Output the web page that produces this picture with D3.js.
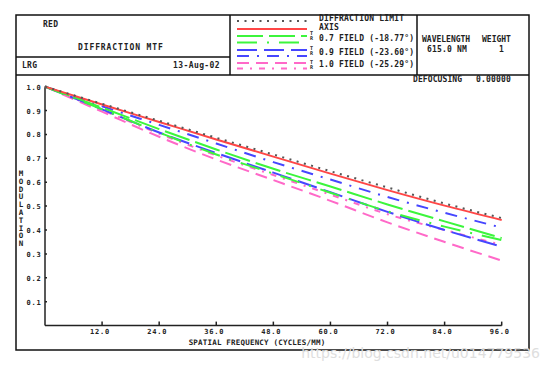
<!DOCTYPE html>
<html>
<head>
<meta charset="utf-8">
<script src="https://cdn.jsdelivr.net/npm/d3@7"></script>
<style>
  body { margin: 0; background: #fff; }
  svg text { font-family: "DejaVu Sans Mono", monospace; font-weight: bold; fill: #222; }
</style>
</head>
<body>
<svg id="chart" width="550" height="372"></svg>
<script>
// spatial frequency samples (cycles/mm) and MTF values
const freq = [0, 12, 24, 36, 48, 60, 72, 84, 96];
const diffLimit = [1.0, 0.928, 0.857, 0.786, 0.716, 0.646, 0.578, 0.511, 0.450];
const axisMtf   = [1.0, 0.925, 0.852, 0.779, 0.707, 0.636, 0.567, 0.502, 0.442];
const f07T = [1.0, 0.912, 0.822, 0.737, 0.656, 0.582, 0.507, 0.436, 0.366];
const f07R = [1.0, 0.905, 0.808, 0.716, 0.636, 0.556, 0.478, 0.414, 0.358];
const f09T = [1.0, 0.905, 0.808, 0.722, 0.640, 0.558, 0.476, 0.400, 0.330];
const f09R = [1.0, 0.918, 0.840, 0.762, 0.684, 0.611, 0.538, 0.472, 0.410];
const f10T = [1.0, 0.895, 0.790, 0.695, 0.609, 0.522, 0.432, 0.350, 0.272];
const f10R = [1.0, 0.902, 0.803, 0.712, 0.630, 0.548, 0.466, 0.400, 0.338];

const xTicks = [12, 24, 36, 48, 60, 72, 84, 96];
const yTicks = [0.1, 0.2, 0.3, 0.4, 0.5, 0.6, 0.7, 0.8, 0.9, 1.0];

const legendLabels = ["DIFFRACTION LIMIT", "AXIS", "0.7 FIELD (-18.77°)", "0.9 FIELD (-23.60°)", "1.0 FIELD (-25.29°)"];

const red = "rgb(255, 70, 70)";
const green = "rgb(60, 245, 60)";
const blue = "rgb(70, 70, 255)";
const pink = "rgb(255, 105, 200)";

// one entry per drawn curve; legendY is the row it gets in the legend box
const series = [
    {vals: diffLimit, color: "#555", dash: "2,5.5", legendY: 21},
    {vals: axisMtf, color: red, dash: null, legendY: 29},
    {vals: f07T, color: green, dash: "26,6", legendY: 36},
    {vals: f07R, color: green, dash: "20,10,2,10", legendY: 42.5},
    {vals: f09T, color: blue, dash: "20,7", legendY: 50},
    {vals: f09R, color: blue, dash: "12,8,2,8", legendY: 56},
    {vals: f10T, color: pink, dash: "12,7", legendY: 63},
    {vals: f10R, color: pink, dash: "6,7,2,7", legendY: 68.5}
];

const svg = d3.select("#chart");

const x = d3.scaleLinear().domain([0, 96]).range([45, 501.7]);
const y = d3.scaleLinear().domain([0, 1]).range([325.6, 86.6]);

// frame and header boxes
const frame = svg.append("g").attr("stroke", "#111").attr("stroke-width", 1.5).attr("fill", "none");
frame.append("rect").attr("x", 16).attr("y", 15).attr("width", 513).attr("height", 335);
frame.append("line").attr("x1", 16).attr("x2", 529).attr("y1", 75).attr("y2", 75);
frame.append("line").attr("x1", 16).attr("x2", 230).attr("y1", 57).attr("y2", 57);
frame.append("line").attr("x1", 230).attr("x2", 230).attr("y1", 15).attr("y2", 75);
frame.append("line").attr("x1", 417).attr("x2", 417).attr("y1", 15).attr("y2", 75);

function label(txt, px, py, opts) {
    opts = opts || {};
    return svg.append("text")
        .attr("x", px).attr("y", py)
        .attr("font-size", opts.size || 8)
        .attr("letter-spacing", opts.spacing != null ? opts.spacing : 0.3)
        .attr("text-anchor", opts.anchor || "start")
        .text(txt);
}

label("RED", 43, 27);
label("DIFFRACTION MTF", 78, 50, {spacing: 0.9});
label("LRG", 22, 68);
label("13-Aug-02", 220, 68, {anchor: "end", spacing: 0.4});

label("WAVELENGTH", 422, 42, {spacing: 0});
label("WEIGHT", 482, 42, {spacing: 0});
label("615.0 NM", 427, 52, {spacing: 0.2});
label("1", 499, 52);

label("DEFOCUSING", 413, 82, {spacing: 0.1});
label("0.00000", 511, 82, {anchor: "end", spacing: 0.2});

// legend
const legend = svg.append("g");
series.forEach(s => {
    legend.append("line")
        .attr("x1", 237).attr("x2", 307)
        .attr("y1", s.legendY).attr("y2", s.legendY)
        .attr("stroke", s.color)
        .attr("stroke-width", 2)
        .attr("stroke-dasharray", s.dash);
});
label(legendLabels[0], 319, 21, {spacing: 0.2});
label(legendLabels[1], 319, 30, {spacing: 0.2});
label(legendLabels[2], 319, 41, {spacing: 0.2});
label(legendLabels[3], 319, 55, {spacing: 0.2});
label(legendLabels[4], 319, 67, {spacing: 0.2});
[[35, 40], [50, 55], [64, 69]].forEach(p => {
    label("T", 310, p[0], {size: 5, spacing: 0});
    label("R", 310, p[1], {size: 5, spacing: 0});
});

// axes
const axes = svg.append("g").attr("stroke", "#222").attr("stroke-width", 1.5);
axes.append("line").attr("x1", x(0)).attr("x2", x(0)).attr("y1", y(1)).attr("y2", y(0));
axes.append("line").attr("x1", x(0)).attr("x2", x(96)).attr("y1", y(0)).attr("y2", y(0));
xTicks.forEach(t => {
    axes.append("line").attr("x1", x(t)).attr("x2", x(t)).attr("y1", y(0)).attr("y2", y(0) - 4);
    label(t.toFixed(1), x(t) - 2, y(0) + 8.5, {anchor: "middle", spacing: 0.8, size: 7});
});
yTicks.forEach(t => {
    axes.append("line").attr("x1", x(0)).attr("x2", x(0) + 2).attr("y1", y(t)).attr("y2", y(t));
    label(t.toFixed(1), 41.5, y(t) + 3, {anchor: "end", spacing: 0.8, size: 7});
});

label("SPATIAL FREQUENCY (CYCLES/MM)", 257, 345, {anchor: "middle", spacing: 0.2, size: 7.5});
"MODULATION".split("").forEach((ch, i) => {
    label(ch, 21, 176 + i * 7.8, {anchor: "middle", size: 7.5, spacing: 0});
});

// curves
const line = d3.line()
    .x((d, i) => x(freq[i]))
    .y(d => y(d))
    .curve(d3.curveMonotoneX);

svg.append("g").selectAll("path")
    .data(series.slice().reverse())
    .join("path")
    .attr("d", d => line(d.vals))
    .attr("fill", "none")
    .attr("stroke", d => d.color)
    .attr("stroke-width", 2)
    .attr("stroke-dasharray", d => d.dash);

// watermark
svg.append("text")
    .attr("x", 540).attr("y", 358)
    .attr("text-anchor", "end")
    .attr("font-size", 14)
    .style("font-family", "'DejaVu Sans', sans-serif")
    .style("font-weight", "normal")
    .style("fill", "#dedede")
    .text("https://blog.csdn.net/u014779536");
</script>
</body>
</html>
